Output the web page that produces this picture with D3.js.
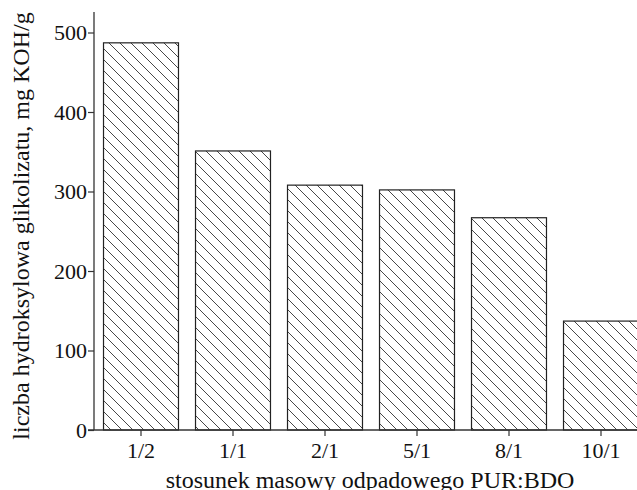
<!DOCTYPE html>
<html>
<head>
<meta charset="utf-8">
<script src="https://cdn.jsdelivr.net/npm/d3@7"></script>
<style>
  body { margin: 0; background: #fff; }
  svg text { font-family: "Liberation Serif", "DejaVu Serif", serif; fill: #111; }
</style>
</head>
<body>
<svg id="chart"></svg>
<script>
// data
const categories = ["1/2", "1/1", "2/1", "5/1", "8/1", "10/1"];
const values = [487, 351, 308, 302, 267, 137];
const yTicks = [0, 100, 200, 300, 400, 500];

function main() {
    const width = 637, height = 490;
    const svg = d3.select("svg#chart")
        .attr("width", width)
        .attr("height", height);

    // hatch pattern, lines going down to the right
    const defs = svg.append("defs");
    const pat = defs.append("pattern")
        .attr("id", "hatch")
        .attr("patternUnits", "userSpaceOnUse")
        .attr("width", 11)
        .attr("height", 11);
    pat.append("path")
        .attr("d", "M-1,-1 L12,12 M-1,10 L1,12 M10,-1 L12,1")
        .attr("stroke", "#333")
        .attr("stroke-width", 0.9);

    const x = d3.scaleBand()
        .domain(categories)
        .range([95, 647])
        .paddingInner(0.185)
        .paddingOuter(0.0925);

    const y = d3.scaleLinear()
        .domain([0, 500])
        .range([430, 32.5]);

    svg.selectAll("rect.bar")
        .data(values)
        .enter().append("rect")
        .attr("class", "bar")
        .attr("x", (d, i) => x(categories[i]))
        .attr("y", d => y(d))
        .attr("width", x.bandwidth())
        .attr("height", d => y(0) - y(d))
        .attr("fill", "url(#hatch)")
        .attr("stroke", "#222")
        .attr("stroke-width", 1.2);

    // y axis
    const yAxis = svg.append("g")
        .attr("transform", "translate(94,0)")
        .call(d3.axisLeft(y).tickValues(yTicks).tickSize(6).tickPadding(1).tickSizeOuter(0))
        .attr("font-size", 22)
        .attr("font-family", null);
    yAxis.select(".domain").attr("d", "M0,12V430").attr("stroke", "#333").attr("stroke-width", 1.3);
    yAxis.selectAll(".tick line").attr("stroke", "#333").attr("stroke-width", 1.2);
    yAxis.selectAll(".tick text").attr("fill", "#111");

    // x axis
    const xAxis = svg.append("g")
        .attr("transform", "translate(0,430)")
        .call(d3.axisBottom(x).tickSize(6).tickPadding(6).tickSizeOuter(0))
        .attr("font-size", 22)
        .attr("font-family", null);
    xAxis.select(".domain").attr("d", "M88,0H637").attr("stroke", "#333").attr("stroke-width", 1.3);
    xAxis.selectAll(".tick line").attr("stroke", "#333").attr("stroke-width", 1.2);
    xAxis.selectAll(".tick text").attr("fill", "#111");

    // axis titles
    svg.append("text")
        .attr("x", 370)
        .attr("y", 488)
        .attr("text-anchor", "middle")
        .style("font-size", "24px")
        .text("stosunek masowy odpadowego PUR:BDO");

    svg.append("text")
        .attr("transform", "translate(29,226) rotate(-90)")
        .attr("text-anchor", "middle")
        .style("font-size", "24px")
        .text("liczba hydroksylowa glikolizatu, mg KOH/g");
}

main()
</script>
</body>
</html>
